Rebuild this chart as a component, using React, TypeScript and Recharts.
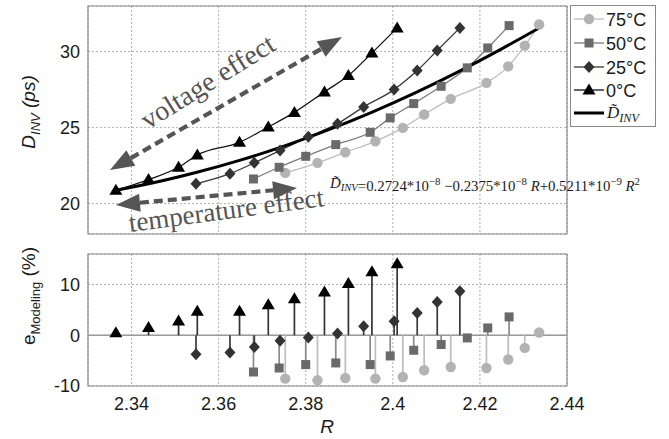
import React from 'react';
import {
  ComposedChart,
  Line,
  XAxis,
  YAxis,
  CartesianGrid,
  ReferenceArea,
  ReferenceLine,
  Legend,
} from 'recharts';

// ---------- data ----------
const R_0C = [2.3364, 2.3439, 2.3508, 2.3551, 2.3648, 2.3714, 2.3774, 2.3843, 2.3898, 2.3952, 2.401];
const D_0C = [20.88, 21.58, 22.39, 23.2, 24.03, 25.04, 26.0, 27.35, 28.42, 29.91, 31.56];
const E_0C = [0.5, 1.5, 2.8, 4.7, 4.7, 6.0, 7.2, 8.5, 10.2, 12.5, 14.1];

const R_25C = [2.3548, 2.3626, 2.3682, 2.3741, 2.3806, 2.3873, 2.3933, 2.4003, 2.4056, 2.4102, 2.4154];
const D_25C = [21.3, 21.97, 22.68, 23.49, 24.39, 25.26, 26.36, 27.5, 28.75, 30.07, 31.56];
const E_25C = [-3.75, -3.4, -2.3, -1.1, -0.46, 0.33, 1.78, 2.76, 4.4, 6.57, 8.68];

const R_50C = [2.368, 2.3739, 2.38, 2.3869, 2.3948, 2.3994, 2.4048, 2.4111, 2.4171, 2.4218, 2.4267];
const D_50C = [21.62, 22.39, 23.11, 23.88, 24.69, 25.64, 26.58, 27.72, 28.93, 30.24, 31.71];
const E_50C = [-7.24, -6.45, -5.78, -5.46, -5.78, -4.08, -2.96, -1.83, -0.53, 1.44, 3.61];

const R_75C = [2.3753, 2.3827, 2.3891, 2.396, 2.4023, 2.4072, 2.4133, 2.4215, 2.4265, 2.4303, 2.4336];
const D_75C = [22.02, 22.68, 23.38, 24.1, 24.98, 25.86, 26.89, 27.94, 29.03, 30.39, 31.78];
const E_75C = [-8.54, -8.88, -8.42, -8.54, -8.22, -6.9, -6.25, -6.45, -4.79, -2.5, 0.53];

const R_FIT = [2.3364, 2.345, 2.355, 2.365, 2.375, 2.385, 2.395, 2.405, 2.415, 2.425, 2.4336];
const D_FIT = [20.88, 21.37, 22.06, 22.86, 23.78, 24.83, 25.99, 27.27, 28.67, 30.18, 31.55];

const X_TICKS = [2.34, 2.36, 2.38, 2.4, 2.42, 2.44];
const X_DOMAIN: [number, number] = [2.33, 2.44];
const D_TICKS = [20, 25, 30];
const D_DOMAIN: [number, number] = [18, 33];
const E_TICKS = [-10, 0, 10];
const E_DOMAIN: [number, number] = [-10, 16];

const LEGEND_LABELS = ['75°C', '50°C', '25°C', '0°C'];

type Shape = 'circle' | 'square' | 'diamond' | 'triangle';

const SERIES: {
  name: string;
  r: number[];
  d: number[];
  e: number[];
  shape: Shape;
  color: string;
  line: string;
  stem: string;
}[] = [
  { name: LEGEND_LABELS[0], r: R_75C, d: D_75C, e: E_75C, shape: 'circle', color: '#b3b3b3', line: '#bdbdbd', stem: '#bdbdbd' },
  { name: LEGEND_LABELS[1], r: R_50C, d: D_50C, e: E_50C, shape: 'square', color: '#6a6a6a', line: '#7a7a7a', stem: '#8a8a8a' },
  { name: LEGEND_LABELS[2], r: R_25C, d: D_25C, e: E_25C, shape: 'diamond', color: '#333333', line: '#3a3a3a', stem: '#3a3a3a' },
  { name: LEGEND_LABELS[3], r: R_0C, d: D_0C, e: E_0C, shape: 'triangle', color: '#000000', line: '#111111', stem: '#333333' },
];

const FIT_ROWS = R_FIT.map((r, i) => ({ r, d: D_FIT[i] }));

const TICK_FONT = { fontSize: 18, fill: '#1a1a1a', fontFamily: '"Liberation Sans", Arial, sans-serif' };
const SERIF = '"Liberation Serif", "Times New Roman", serif';
const SANS = '"Liberation Sans", Arial, sans-serif';

function Marker({ cx, cy, shape, color }: { cx: number; cy: number; shape: Shape; color: string }) {
  if (cx == null || cy == null || isNaN(cx) || isNaN(cy)) return null;
  switch (shape) {
    case 'circle':
      return <circle cx={cx} cy={cy} r={5.2} fill={color} />;
    case 'square':
      return <rect x={cx - 4.5} y={cy - 4.5} width={9} height={9} fill={color} />;
    case 'diamond':
      return <polygon points={`${cx},${cy - 6} ${cx + 5.5},${cy} ${cx},${cy + 6} ${cx - 5.5},${cy}`} fill={color} />;
    default:
      return <polygon points={`${cx},${cy - 6.5} ${cx + 6.5},${cy + 4.5} ${cx - 6.5},${cy + 4.5}`} fill={color} />;
  }
}

function makeDot(shape: Shape, color: string) {
  return (p: any) => <Marker key={`${shape}-${p.index}`} cx={p.cx} cy={p.cy} shape={shape} color={color} />;
}

function DTilde({ size }: { size: number }) {
  return (
    <>
      <tspan fontStyle="italic">{'D\u0303'}</tspan>
      <tspan fontStyle="italic" fontSize={size * 0.72} dy={size * 0.22}>
        INV
      </tspan>
      <tspan dy={-size * 0.22}>{''}</tspan>
    </>
  );
}

function LegendBox() {
  const rowY = [13, 37, 61, 84, 107];
  return (
    <svg width={86} height={122} style={{ display: 'block', background: '#fff', border: '1px solid #8a8a8a', boxSizing: 'border-box' }}>
      {SERIES.map((s, i) => (
        <g key={s.name}>
          <line x1={3} x2={33} y1={rowY[i]} y2={rowY[i]} stroke={s.line} strokeWidth={1.3} />
          <Marker cx={18} cy={rowY[i]} shape={s.shape} color={s.color} />
          <text x={35} y={rowY[i] + 6.5} fontSize={18} fontFamily={SANS} fill="#1a1a1a">
            {s.name}
          </text>
        </g>
      ))}
      <line x1={3} x2={33} y1={rowY[4]} y2={rowY[4]} stroke="#000" strokeWidth={3} />
      <text x={36} y={rowY[4] + 5} fontSize={17} fontFamily={SERIF} fill="#1a1a1a">
        <DTilde size={17} />
      </text>
    </svg>
  );
}

function Arrow({ x1, y1, x2, y2 }: { x1: number; y1: number; x2: number; y2: number }) {
  const dx = x2 - x1;
  const dy = y2 - y1;
  const L = Math.hypot(dx, dy);
  const ux = dx / L;
  const uy = dy / L;
  const px = -uy;
  const py = ux;
  const hl = 24;
  const hw = 9;
  const b1x = x1 + ux * hl;
  const b1y = y1 + uy * hl;
  const b2x = x2 - ux * hl;
  const b2y = y2 - uy * hl;
  return (
    <g fill="#555" stroke="none">
      <line x1={b1x} y1={b1y} x2={b2x} y2={b2y} stroke="#555" strokeWidth={4.2} strokeDasharray="9 5" />
      <polygon points={`${x1},${y1} ${b1x + px * hw},${b1y + py * hw} ${b1x - px * hw},${b1y - py * hw}`} />
      <polygon points={`${x2},${y2} ${b2x + px * hw},${b2y + py * hw} ${b2x - px * hw},${b2y - py * hw}`} />
    </g>
  );
}

function Overlay() {
  const fs = 15;
  const sup = { fontSize: 11 };
  return (
    <svg width={669} height={439} style={{ position: 'absolute', left: 0, top: 0, pointerEvents: 'none' }}>
      {/* y label top */}
      <text transform="translate(35,112) rotate(-90)" textAnchor="middle" fontFamily={SANS} fontSize={19} fontStyle="italic" fill="#1a1a1a">
        D
        <tspan fontSize={13} dy={5}>
          INV
        </tspan>
        <tspan dy={-5}> (ps)</tspan>
      </text>
      {/* y label bottom */}
      <text transform="translate(35,296) rotate(-90)" textAnchor="middle" fontFamily={SANS} fontSize={19} fill="#1a1a1a">
        e
        <tspan fontSize={13} dy={5}>
          Modeling
        </tspan>
        <tspan dy={-5}> (%)</tspan>
      </text>
      {/* x label */}
      <text x={327} y={433} textAnchor="middle" fontFamily={SANS} fontSize={19} fontStyle="italic" fill="#1a1a1a">
        R
      </text>

      {/* annotations */}
      <Arrow x1={110} y1={170} x2={342} y2={37} />
      <Arrow x1={116} y1={205} x2={297} y2={188} />
      <text transform="translate(148,130) rotate(-32)" fontFamily={SERIF} fontSize={28} fill="#555">
        voltage effect
      </text>
      <text transform="translate(130,232) rotate(-7.6)" fontFamily={SERIF} fontSize={27} fill="#555">
        temperature effect
      </text>

      {/* formula */}
      <text x={330} y={188} fontFamily={SERIF} fontSize={fs} fill="#1a1a1a" textLength={310} lengthAdjust="spacingAndGlyphs">
        <DTilde size={fs} />
        <tspan>=0.2724*10</tspan>
        <tspan {...sup} dy={-6}>−8</tspan>
        <tspan dy={6}> −0.2375*10</tspan>
        <tspan {...sup} dy={-6}>−8</tspan>
        <tspan dy={6} fontStyle="italic"> R</tspan>
        <tspan>+0.5211*10</tspan>
        <tspan {...sup} dy={-6}>−9</tspan>
        <tspan dy={6} fontStyle="italic"> R</tspan>
        <tspan {...sup} dy={-6}>2</tspan>
      </text>
    </svg>
  );
}

export default function App() {
  return (
    <div style={{ position: 'absolute', left: 0, top: 0, width: 669, height: 439, background: '#fff' }}>
      <div style={{ position: 'absolute', left: 0, top: 0 }}>
        <ComposedChart width={669} height={240} margin={{ top: 6, right: 102, bottom: 6, left: 28 }}>
          <CartesianGrid stroke="#9a9a9a" strokeDasharray="2 2" strokeWidth={0.8} />
          <XAxis type="number" dataKey="r" domain={X_DOMAIN} ticks={X_TICKS} allowDataOverflow hide />
          <YAxis
            type="number"
            domain={D_DOMAIN}
            ticks={D_TICKS}
            width={60}
            axisLine={false}
            tickLine={false}
            tick={TICK_FONT}
            allowDataOverflow
          />
          <ReferenceArea x1={X_DOMAIN[0]} x2={X_DOMAIN[1]} y1={D_DOMAIN[0]} y2={D_DOMAIN[1]} fill="none" stroke="#8a8a8a" strokeWidth={1.2} />
          {SERIES.slice(0, 3).map((s) => (
            <Line
              key={s.name}
              data={s.r.map((r, i) => ({ r, d: s.d[i] }))}
              dataKey="d"
              type="monotone"
              stroke={s.line}
              strokeWidth={1.3}
              dot={makeDot(s.shape, s.color)}
              activeDot={false}
              isAnimationActive={false}
              name={s.name}
            />
          ))}
          <Line data={FIT_ROWS} dataKey="d" type="monotone" stroke="#000" strokeWidth={3} dot={false} activeDot={false} isAnimationActive={false} />
          {SERIES.slice(3).map((s) => (
            <Line
              key={s.name}
              data={s.r.map((r, i) => ({ r, d: s.d[i] }))}
              dataKey="d"
              type="monotone"
              stroke={s.line}
              strokeWidth={1.3}
              dot={makeDot(s.shape, s.color)}
              activeDot={false}
              isAnimationActive={false}
              name={s.name}
            />
          ))}
          <Legend
            layout="horizontal"
            verticalAlign="middle"
            align="center"
            wrapperStyle={{ position: 'absolute', left: 570, top: 5, width: 86, height: 122 }}
            content={() => <LegendBox />}
          />
        </ComposedChart>
      </div>
      <div style={{ position: 'absolute', left: 0, top: 240 }}>
        <ComposedChart width={669} height={199} margin={{ top: 14, right: 102, bottom: 23, left: 28 }}>
          <CartesianGrid stroke="#9a9a9a" strokeDasharray="2 2" strokeWidth={0.8} />
          <XAxis
            type="number"
            dataKey="r"
            domain={X_DOMAIN}
            ticks={X_TICKS}
            allowDataOverflow
            axisLine={false}
            tickLine={false}
            height={30}
            tickMargin={5}
            tick={TICK_FONT}
          />
          <YAxis
            type="number"
            domain={E_DOMAIN}
            ticks={E_TICKS}
            width={60}
            axisLine={false}
            tickLine={false}
            tick={TICK_FONT}
            allowDataOverflow
          />
          <ReferenceArea x1={X_DOMAIN[0]} x2={X_DOMAIN[1]} y1={E_DOMAIN[0]} y2={E_DOMAIN[1]} fill="none" stroke="#8a8a8a" strokeWidth={1.2} />
          <ReferenceLine y={0} stroke="#9a9a9a" strokeWidth={1.3} />
          {SERIES.flatMap((s) =>
            s.r.map((r, i) => (
              <ReferenceLine
                key={`${s.name}-stem-${i}`}
                segment={[
                  { x: r, y: 0 },
                  { x: r, y: s.e[i] },
                ]}
                stroke={s.stem}
                strokeWidth={1.7}
              />
            ))
          )}
          {SERIES.map((s) => (
            <Line
              key={s.name}
              data={s.r.map((r, i) => ({ r, e: s.e[i] }))}
              dataKey="e"
              stroke="none"
              dot={makeDot(s.shape, s.color)}
              activeDot={false}
              isAnimationActive={false}
            />
          ))}
        </ComposedChart>
      </div>
      <Overlay />
    </div>
  );
}
